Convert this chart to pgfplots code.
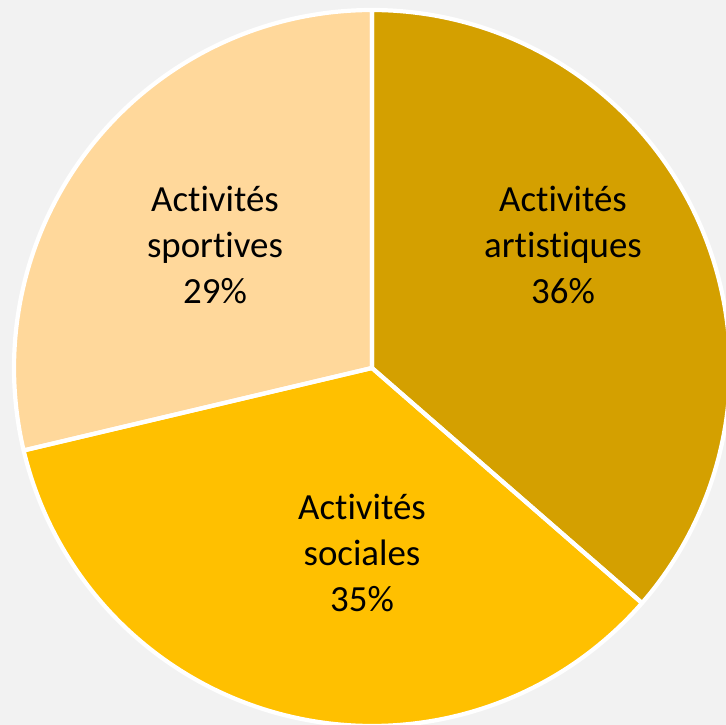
\documentclass[border=0pt]{standalone}
\usepackage{fontspec}
\setmainfont[Ligatures={NoCommon,NoRare,NoContextual},RawFeature={-liga;-clig;-dlig;-calt}]{Carlito}
\usepackage{pgfplots}
\pgfplotsset{compat=1.18}
\definecolor{bg}{HTML}{F2F2F2}
\definecolor{cArt}{HTML}{D4A000}
\definecolor{cSoc}{HTML}{FFC000}
\definecolor{cSpo}{HTML}{FFD89B}
% shares (percent)
\def\vArt{36.4}
\def\vSoc{34.9}
\def\vSpo{28.7}
\begin{document}
\begin{tikzpicture}
\useasboundingbox (0,0) rectangle (726bp,725bp);
\pgfmathsetmacro{\aA}{90}
\pgfmathsetmacro{\aB}{90-3.6*\vArt}
\pgfmathsetmacro{\aC}{\aB-3.6*\vSoc}
\pgfmathsetmacro{\aD}{\aC-3.6*\vSpo}
\begin{axis}[
  at={(0,0)}, anchor=south west,
  scale only axis, width=726bp, height=725bp,
  xmin=0, xmax=726, ymin=0, ymax=725,
  axis line style={draw=none}, xtick=\empty, ytick=\empty,
  axis background/.style={fill=bg},
  clip=true,
  /pgf/number format/assume math mode=true,
]
\addplot[fill=cArt, draw=none, variable=t, domain=\aB:\aA, samples=120]
  ({372+358*cos(t)},{357+358*sin(t)}) -- (axis cs:372,357) -- cycle;
\addplot[fill=cSoc, draw=none, variable=t, domain=\aC:\aB, samples=120]
  ({372+358*cos(t)},{357+358*sin(t)}) -- (axis cs:372,357) -- cycle;
\addplot[fill=cSpo, draw=none, variable=t, domain=\aD:\aC, samples=120]
  ({372+358*cos(t)},{357+358*sin(t)}) -- (axis cs:372,357) -- cycle;
\addplot[draw=white, line width=4.2bp, line join=round, variable=t, domain=\aB:\aA, samples=120]
  ({372+358*cos(t)},{357+358*sin(t)}) -- (axis cs:372,357) -- cycle;
\addplot[draw=white, line width=4.2bp, line join=round, variable=t, domain=\aC:\aB, samples=120]
  ({372+358*cos(t)},{357+358*sin(t)}) -- (axis cs:372,357) -- cycle;
\addplot[draw=white, line width=4.2bp, line join=round, variable=t, domain=\aD:\aC, samples=120]
  ({372+358*cos(t)},{357+358*sin(t)}) -- (axis cs:372,357) -- cycle;
\node[align=center, font=\fontsize{37}{46}\selectfont, text=black] at (axis cs:563,480) {Activités\\artistiques\\\pgfmathprintnumber[fixed,precision=0,assume math mode=true]{\vArt}\%};
\node[align=center, font=\fontsize{37}{46}\selectfont, text=black] at (axis cs:362,172) {Activités\\sociales\\\pgfmathprintnumber[fixed,precision=0,assume math mode=true]{\vSoc}\%};
\node[align=center, font=\fontsize{37}{46}\selectfont, text=black] at (axis cs:215,480) {Activités\\sportives\\\pgfmathprintnumber[fixed,precision=0,assume math mode=true]{\vSpo}\%};
\end{axis}
\end{tikzpicture}
\end{document}
